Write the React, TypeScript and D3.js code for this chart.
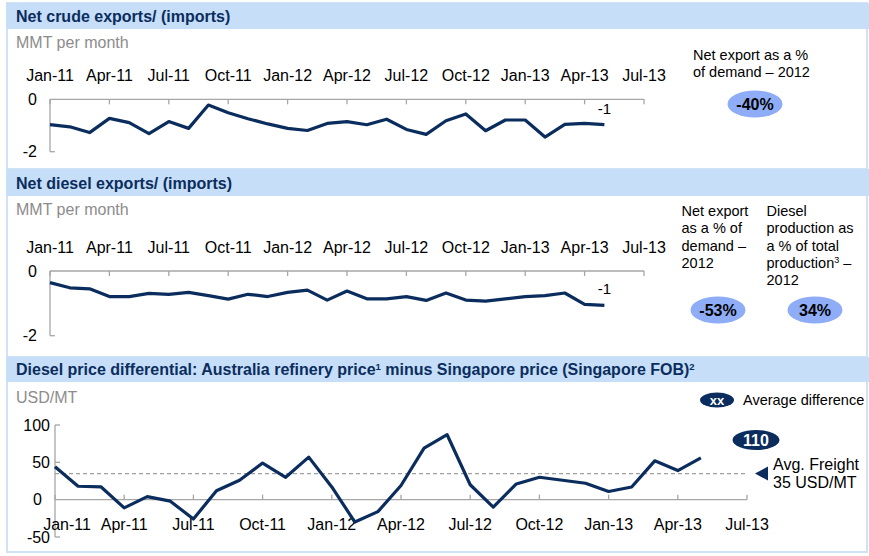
import React from 'react';
import * as d3 from 'd3';

const tickLabels = ["Jan-11","Apr-11","Jul-11","Oct-11","Jan-12","Apr-12","Jul-12","Oct-12","Jan-13","Apr-13","Jul-13"];
const crude = [-0.97,-1.05,-1.27,-0.73,-0.89,-1.31,-0.85,-1.11,-0.22,-0.51,-0.74,-0.94,-1.11,-1.19,-0.92,-0.85,-0.97,-0.76,-1.15,-1.34,-0.82,-0.56,-1.2,-0.79,-0.79,-1.44,-0.96,-0.92,-0.97];
const diesel = [-0.36,-0.52,-0.55,-0.79,-0.79,-0.69,-0.72,-0.66,-0.76,-0.87,-0.72,-0.79,-0.66,-0.59,-0.9,-0.62,-0.86,-0.86,-0.79,-0.91,-0.68,-0.9,-0.93,-0.86,-0.79,-0.76,-0.68,-1.03,-1.06];
const priceDiff = [44,18,17,-11,4,-2,-26,12,26,49,30,57,17,-30,-16,19,69,87,20,-10,21,30,26,22,11,17,52,39,56];
const avgFreight = 35;
const crudeLabel = "-1";
const dieselLabel = "-1";

const FONT = "'Liberation Sans', Arial, sans-serif";
const NAVY = "#0b2d5e";
const AXIS = "#a6a6a6";
const BAND = "#c6def7";
const BORDER = "#cfe2f6";
const PILL = "#8eadf6";

function TopAxisChart({ data, y0, y2, label, labelBaseline }: any) {
  const x = d3.scaleLinear().domain([0, 30]).range([50, 644]);
  const y = d3.scaleLinear().domain([0, -2]).range([y0, y2]);
  const line = d3.line<number>().x((_, i) => x(i)).y(d => y(d));
  const ticks = d3.range(0, 31, 3);
  const last = data.length - 1;
  return (
    <g>
      {tickLabels.map((t, i) => (
        <text key={t} x={x(ticks[i])} y={labelBaseline} textAnchor="middle" fontSize={16} fill="#000">{t}</text>
      ))}
      <line x1={x(0)} x2={x(30)} y1={y(0)} y2={y(0)} stroke={AXIS} strokeWidth={1.3} />
      {ticks.map(t => (
        <line key={t} x1={x(t)} x2={x(t)} y1={y(0)} y2={y(0) + 5} stroke={AXIS} strokeWidth={1.3} />
      ))}
      <line x1={x(0)} x2={x(0)} y1={y(0)} y2={y(-2)} stroke={AXIS} strokeWidth={1.3} />
      <line x1={x(0)} x2={x(0) + 5} y1={y(-2)} y2={y(-2)} stroke={AXIS} strokeWidth={1.3} />
      {[0, -2].map(v => (
        <text key={v} x={37} y={y(v)} dy="0.36em" textAnchor="end" fontSize={16}>{v}</text>
      ))}
      <path d={line(data) || ''} fill="none" stroke={NAVY} strokeWidth={3.2} strokeLinejoin="round" />
      <text x={x(last)} y={y(data[last]) - 11} textAnchor="middle" fontSize={15}>{label}</text>
    </g>
  );
}

function BottomChart() {
  const x = d3.scaleLinear().domain([0, 30]).range([55, 747]);
  const y = d3.scaleLinear().domain([100, -50]).range([425, 537]);
  const line = d3.line<number>().x((_, i) => x(i)).y(d => y(d));
  const ticks = d3.range(0, 31, 3);
  return (
    <g>
      <line x1={x(0)} x2={x(0)} y1={y(100)} y2={y(-50)} stroke={AXIS} strokeWidth={1.3} />
      {[100, 50, -50].map(v => (
        <line key={v} x1={x(0)} x2={x(0) + 5} y1={y(v)} y2={y(v)} stroke={AXIS} strokeWidth={1.3} />
      ))}
      <line x1={x(0)} x2={x(30)} y1={y(0)} y2={y(0)} stroke={AXIS} strokeWidth={1.3} />
      {ticks.map(t => (
        <line key={t} x1={x(t)} x2={x(t)} y1={y(0)} y2={y(0) - 5} stroke={AXIS} strokeWidth={1.3} />
      ))}
      {[100, 50, 0, -50].map(v => (
        <text key={v} x={v === 0 ? 42 : 50} y={y(v)} dy="0.36em" textAnchor="end" fontSize={16}>{v}</text>
      ))}
      {tickLabels.map((t, i) => (
        <text key={t} x={x(ticks[i]) + (i === 0 ? 12 : 0)} y={530} textAnchor="middle" fontSize={16}>{t}</text>
      ))}
      <line x1={x(0)} x2={x(30)} y1={y(avgFreight)} y2={y(avgFreight)} stroke="#a0a0a0" strokeWidth={1.3} strokeDasharray="4,3" />
      <path d={line(priceDiff) || ''} fill="none" stroke={NAVY} strokeWidth={3.2} strokeLinejoin="round" />
      <path d={`M755,${y(avgFreight)} L768,${y(avgFreight) - 7} L768,${y(avgFreight) + 7} Z`} fill={NAVY} />
      <text x={773} y={470} fontSize={16}>Avg. Freight</text>
      <text x={773} y={488} fontSize={16}>35 USD/MT</text>
      <ellipse cx={756} cy={440} rx={23.5} ry={10} fill={NAVY} />
      <text x={756} y={440} dy="0.36em" textAnchor="middle" fontSize={16} fontWeight="bold" fill="#fff">110</text>
      <ellipse cx={717} cy={400} rx={17} ry={7.5} fill={NAVY} />
      <text x={717} y={400} dy="0.36em" textAnchor="middle" fontSize={13} fontWeight="bold" fill="#fff">xx</text>
      <text x={743} y={405} fontSize={14.5}>Average difference</text>
    </g>
  );
}

function Panel({ y0, y1, hb }: any) {
  return (
    <g>
      <rect x={7} y={y0} width={860} height={y1 - y0} fill="#fff" stroke={BORDER} strokeWidth={2} />
      <rect x={6} y={y0} width={863} height={hb - y0} fill={BAND} />
    </g>
  );
}

export default function App() {
  return (
    <svg width={869} height={556} style={{ position: 'absolute', left: 0, top: 0, fontFamily: FONT }}>
      <rect width={869} height={556} fill="#fff" />
      <Panel y0={3} y1={169} hb={29} />
      <Panel y0={169} y1={357} hb={196} />
      <Panel y0={357} y1={552} hb={382} />

      <text x={16} y={22} fontSize={16} fontWeight="bold" fill={NAVY}>Net crude exports/ (imports)</text>
      <text x={16} y={48} fontSize={16} fill="#8c8c8c">MMT per month</text>
      <TopAxisChart data={crude} y0={99.3} y2={151.7} label={crudeLabel} labelBaseline={81} />
      <text x={693} y={60} fontSize={14.5}>Net export as a %</text>
      <text x={693} y={77} fontSize={14.5}>of demand – 2012</text>
      <ellipse cx={755} cy={104} rx={27.5} ry={13.5} fill={PILL} />
      <text x={755} y={104} dy="0.36em" textAnchor="middle" fontSize={16} fontWeight="bold">-40%</text>

      <text x={16} y={189} fontSize={16} fontWeight="bold" fill={NAVY}>Net diesel exports/ (imports)</text>
      <text x={16} y={215} fontSize={16} fill="#8c8c8c">MMT per month</text>
      <TopAxisChart data={diesel} y0={271} y2={335.7} label={dieselLabel} labelBaseline={253} />
      {["Net export", "as a % of", "demand –", "2012"].map((t, i) => (
        <text key={t} x={681.5} y={215.7 + i * 17.4} fontSize={14.5}>{t}</text>
      ))}
      <text x={766.5} y={215.7} fontSize={14.5}>Diesel</text>
      <text x={766.5} y={233.1} fontSize={14.5}>production as</text>
      <text x={766.5} y={250.5} fontSize={14.5}>a % of total</text>
      <text x={766.5} y={267.9} fontSize={14.5}>production<tspan fontSize={9} dy={-5}>3</tspan><tspan dy={5}> –</tspan></text>
      <text x={766.5} y={285.3} fontSize={14.5}>2012</text>
      <ellipse cx={718} cy={310} rx={27.5} ry={13.5} fill={PILL} />
      <text x={718} y={310} dy="0.36em" textAnchor="middle" fontSize={16} fontWeight="bold">-53%</text>
      <ellipse cx={815} cy={310} rx={27.5} ry={13.5} fill={PILL} />
      <text x={815} y={310} dy="0.36em" textAnchor="middle" fontSize={16} fontWeight="bold">34%</text>

      <text x={16} y={375} fontSize={16} fontWeight="bold" fill={NAVY}>
        Diesel price differential: Australia refinery price<tspan fontSize={9.5} dy={-5}>1</tspan><tspan dy={5}> minus Singapore price (Singapore FOB)</tspan><tspan fontSize={9.5} dy={-5}>2</tspan>
      </text>
      <text x={16} y={403} fontSize={16} fill="#8c8c8c">USD/MT</text>
      <BottomChart />
    </svg>
  );
}
